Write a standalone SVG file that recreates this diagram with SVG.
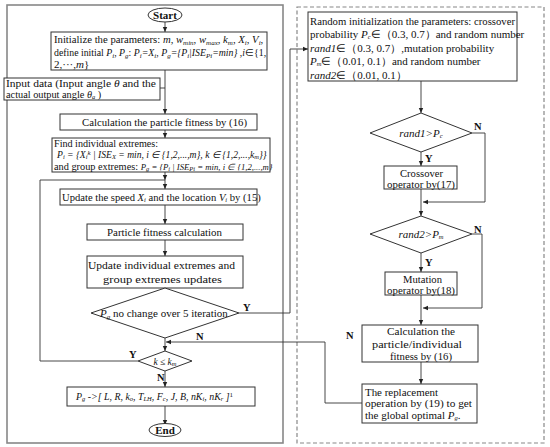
<svg xmlns="http://www.w3.org/2000/svg" width="550" height="447" viewBox="0 0 550 447">
<defs>
<marker id="ah" markerWidth="6" markerHeight="6" refX="5" refY="3" orient="auto" markerUnits="userSpaceOnUse">
<path d="M0,0.8 L5,3 L0,5.2 Z" fill="#222"/>
</marker>
<style>
text{font-family:"Liberation Serif","Times New Roman",serif;font-size:11px;fill:#111}
.i{font-style:italic}
.b{font-weight:bold}
.s{font-size:7px;baseline-shift:-2px}
.ss{font-size:6.5px;baseline-shift:-1px}
.sup{font-size:7px;baseline-shift:3px}
.box{fill:#fff;stroke:#333;stroke-width:1}
.c{fill:none;stroke:#333;stroke-width:0.9}
.lbl{font-weight:bold;font-size:10.5px}
.r{font-size:11.3px}
</style>
</defs>
<rect width="550" height="447" fill="#fff"/>
<rect x="7" y="5" width="276" height="438" fill="none" stroke="#888" stroke-width="1.6"/>
<rect x="297" y="7" width="247" height="436" fill="none" stroke="#888" stroke-width="1.2" stroke-dasharray="4,2.5"/>

<g id="connectors">
<line class="c" x1="165" y1="22" x2="165" y2="32" marker-end="url(#ah)"/>
<line class="c" x1="165" y1="70" x2="165" y2="114" marker-end="url(#ah)"/>
<line class="c" x1="160" y1="88" x2="165" y2="88"/>
<line class="c" x1="165" y1="130" x2="165" y2="138" marker-end="url(#ah)"/>
<line class="c" x1="165" y1="172" x2="165" y2="180" marker-end="url(#ah)"/>
<line class="c" x1="165" y1="180" x2="165" y2="189" marker-end="url(#ah)"/>
<polyline class="c" points="138,361 40,361 40,180 165,180"/>
<line class="c" x1="165" y1="205" x2="165" y2="224" marker-end="url(#ah)"/>
<line class="c" x1="165" y1="240" x2="165" y2="256" marker-end="url(#ah)"/>
<line class="c" x1="165" y1="338" x2="165" y2="351" marker-end="url(#ah)"/>
<line class="c" x1="165" y1="371" x2="165" y2="387" marker-end="url(#ah)"/>
<line class="c" x1="165" y1="406" x2="165" y2="425" marker-end="url(#ah)"/>
<polyline class="c" points="239,313 290,313 290,49 308,49" marker-end="url(#ah)"/>
<polyline class="c" points="362,403 325,403 325,342 166,342" marker-end="url(#ah)"/>
<line class="c" x1="421" y1="81" x2="421" y2="113" marker-end="url(#ah)"/>
<line class="c" x1="421" y1="152" x2="421" y2="166" marker-end="url(#ah)"/>
<polyline class="c" points="472,133 485,133 485,202 423,202" marker-end="url(#ah)"/>
<line class="c" x1="421" y1="189" x2="421" y2="216" marker-end="url(#ah)"/>
<line class="c" x1="421" y1="253" x2="421" y2="272" marker-end="url(#ah)"/>
<polyline class="c" points="472,234 482,234 482,308 423,308" marker-end="url(#ah)"/>
<line class="c" x1="421" y1="295" x2="421" y2="325" marker-end="url(#ah)"/>
<line class="c" x1="421" y1="362" x2="421" y2="384" marker-end="url(#ah)"/>
<text class="lbl" x="243" y="311">Y</text>
<text class="lbl" x="196" y="340">N</text>
<text class="lbl" x="346" y="339">N</text>
<text class="lbl" x="129" y="358">Y</text>
<text class="lbl" x="157" y="381">N</text>
<text class="lbl" x="474" y="130">N</text>
<text class="lbl" x="425" y="162">Y</text>
<text class="lbl" x="474" y="233">N</text>
<text class="lbl" x="425" y="266">Y</text>
</g>

<g id="start">
<ellipse cx="165" cy="15" rx="17" ry="7" fill="#fff" stroke="#333"/>
<text class="b" x="165" y="19" text-anchor="middle">Start</text>
</g>
<g id="init">
<rect class="box" x="51" y="32" width="216" height="38"/>
<text x="54" y="43" style="font-size:10.7px">Initialize the parameters: <tspan class="i">m</tspan>, <tspan class="i">w<tspan class="s">min</tspan></tspan>, <tspan class="i">w<tspan class="s">max</tspan></tspan>, <tspan class="i">k<tspan class="s">m</tspan></tspan>, <tspan class="i">X<tspan class="s">i</tspan></tspan>, <tspan class="i">V<tspan class="s">i</tspan></tspan>,</text>
<text x="54" y="55.5" style="font-size:9.8px">define initial <tspan class="i">P<tspan class="s">i</tspan></tspan>, <tspan class="i">P<tspan class="s">g</tspan></tspan>: <tspan class="i">P<tspan class="s">i</tspan>=X<tspan class="s">i</tspan></tspan>, <tspan class="i">P<tspan class="s">g</tspan>={P<tspan class="s">i</tspan>|ISE<tspan class="s">Pi</tspan>=min}</tspan> ,<tspan class="i">i</tspan>∈{1,</text>
<text x="54" y="67.5">2,···,<tspan class="i">m</tspan>}</text>
</g>
<g id="input">
<rect class="box" x="4" y="78" width="156" height="22"/>
<text x="6" y="87" style="font-size:10.3px" textLength="150" lengthAdjust="spacingAndGlyphs">Input data (Input angle <tspan class="i">θ</tspan> and the</text>
<text x="6" y="98" style="font-size:10.3px">actual output angle <tspan class="i">θ<tspan class="ss">a</tspan></tspan> )</text>
</g>
<g id="calc">
<rect class="box" x="60" y="114" width="197" height="16"/>
<text x="82" y="126" textLength="165" lengthAdjust="spacingAndGlyphs">Calculation the particle fitness by (16)</text>
</g>
<g id="find">
<rect class="box" x="52" y="138" width="218" height="34"/>
<text x="54" y="146.5" textLength="104" lengthAdjust="spacingAndGlyphs">Find individual extremes:</text>
<text x="57" y="157.5" class="i" style="font-size:9.6px">P<tspan class="ss">i</tspan> = {X<tspan class="ss">i</tspan><tspan class="sup">k</tspan> | ISE<tspan class="ss">X</tspan> = min, i ∈ {1,2,...,m}, k ∈ {1,2,...,k<tspan class="ss">m</tspan>}}</text>
<text x="54" y="169.5" style="font-size:10.3px">and group extremes: <tspan class="i" font-size="8.7">P<tspan class="ss">g</tspan> = {P<tspan class="ss">i</tspan> | ISE<tspan class="ss">Pi</tspan> = min, i ∈ {1,2,...,m}</tspan></text>
</g>
<g id="update">
<rect class="box" x="60" y="189" width="197" height="16"/>
<text x="62" y="201" style="font-size:10.6px">Update the speed <tspan class="i">X<tspan class="ss">i</tspan></tspan> and the location <tspan class="i">V<tspan class="ss">i</tspan></tspan> by (15)</text>
</g>
<g id="pfc">
<rect class="box" x="87" y="224" width="156" height="16"/>
<text x="107" y="236" textLength="115" lengthAdjust="spacingAndGlyphs">Particle fitness calculation</text>
</g>
<g id="upext">
<rect class="box" x="87" y="256" width="156" height="32"/>
<text x="88" y="269" textLength="147" lengthAdjust="spacingAndGlyphs">Update individual extremes and</text>
<text x="103" y="283" textLength="119" lengthAdjust="spacingAndGlyphs">group extremes updates</text>
</g>
<g id="nochange">
<polygon class="box" points="165,288 239,313 165,338 91,313"/>
<text x="100" y="317"><tspan class="i">P<tspan class="s">g</tspan></tspan> no change over 5 iteration</text>
</g>
<g id="kcheck">
<polygon class="box" points="165,351 192,361 165,371 138,361"/>
<text x="165" y="364.5" text-anchor="middle" class="i" style="font-size:9.5px">k ≤ k<tspan class="ss">m</tspan></text>
</g>
<g id="result">
<rect class="box" x="67" y="387" width="188" height="19"/>
<text x="76" y="400" class="i" style="font-size:9.9px">P<tspan class="ss">g</tspan> -&gt;[ L, R, k<tspan class="ss">o</tspan>, T<tspan class="ss">LH</tspan>, F<tspan class="ss">c</tspan>, J, B, nK<tspan class="ss">i</tspan>, nK<tspan class="ss">r</tspan> ]<tspan font-style="normal" class="sup">1</tspan></text>
</g>
<g id="end">
<ellipse cx="165" cy="430" rx="16" ry="6.5" fill="#fff" stroke="#333"/>
<text class="b" x="165" y="434" text-anchor="middle">End</text>
</g>

<g id="randinit">
<rect class="box" x="308" y="12" width="209" height="69"/>
<text x="310" y="24.5" textLength="205" lengthAdjust="spacingAndGlyphs">Random initialization the parameters: crossover</text>
<text x="310" y="38">probability <tspan class="i">P<tspan class="ss">c</tspan></tspan>∈（0.3, 0.7）and random number</text>
<text x="310" y="51.5"><tspan class="i">rand1</tspan>∈（0.3, 0.7）,mutation probability</text>
<text x="310" y="65"><tspan class="i">P<tspan class="ss">m</tspan></tspan>∈（0.01, 0.1）and random number</text>
<text x="310" y="78.5"><tspan class="i">rand2</tspan>∈（0.01, 0.1）</text>
</g>
<g id="rand1">
<polygon class="box" points="421,113 472,133 421,152 370,133"/>
<text x="421" y="136.5" class="i" text-anchor="middle">rand1&gt;P<tspan class="ss">c</tspan></text>
</g>
<g id="crossover">
<rect class="box" x="384" y="166" width="73" height="23"/>
<text x="400" y="176.5" textLength="43" lengthAdjust="spacingAndGlyphs">Crossover</text>
<text x="387" y="187.5" textLength="68" lengthAdjust="spacingAndGlyphs">operator by(17)</text>
</g>
<g id="rand2">
<polygon class="box" points="421,216 472,234 421,253 370,234"/>
<text x="421" y="237.5" class="i" text-anchor="middle">rand2&gt;P<tspan class="ss">m</tspan></text>
</g>
<g id="mutation">
<rect class="box" x="385" y="272" width="72" height="23"/>
<text x="403" y="282.5" textLength="39" lengthAdjust="spacingAndGlyphs">Mutation</text>
<text x="387" y="293.5" textLength="68" lengthAdjust="spacingAndGlyphs">operator by(18)</text>
</g>
<g id="calc2">
<rect class="box" x="362" y="325" width="116" height="37"/>
<text class="r" x="387" y="335" textLength="68" lengthAdjust="spacingAndGlyphs">Calculation the</text>
<text class="r" x="372" y="347.5" textLength="90" lengthAdjust="spacingAndGlyphs">particle/individual</text>
<text class="r" x="390" y="360" textLength="62" lengthAdjust="spacingAndGlyphs">fitness by (16)</text>
</g>
<g id="replace">
<rect class="box" x="362" y="384" width="115" height="39"/>
<text x="365" y="395.5" textLength="73" lengthAdjust="spacingAndGlyphs">The replacement</text>
<text x="365" y="407" textLength="107" lengthAdjust="spacingAndGlyphs">operation by (19) to get</text>
<text x="365" y="418.5">the global optimal <tspan class="i">P<tspan class="ss">g</tspan></tspan>.</text>
</g>
</svg>
